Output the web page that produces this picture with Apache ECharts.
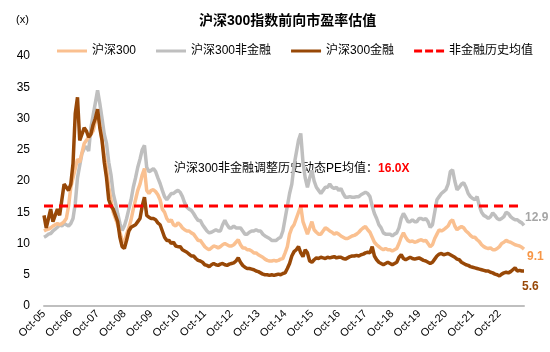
<!DOCTYPE html>
<html><head><meta charset="utf-8">
<script src="https://cdn.jsdelivr.net/npm/echarts@6/dist/echarts.min.js"></script>
<style>html,body{margin:0;padding:0;background:#fff}#c{width:550px;height:352px}</style>
</head><body><div id="c"></div>
<script>
// Monthly data, Oct-2005 .. Sep-2023
const startYear = 2005, startMonth = 9; // October (0-based)
const monthNames = ['Jan','Feb','Mar','Apr','May','Jun','Jul','Aug','Sep','Oct','Nov','Dec'];

const hs300 = [
12.0,12.2,12.3,12.5,12.8,13.0,13.2,13.0,13.2,13.5,14.0,16.0,19.0,20.5,22.0,23.5,23.0,24.5,26.0,26.5,
27.0,27.5,28.0,29.5,31.0,29.0,26.5,24.0,22.0,19.0,17.0,15.0,14.0,13.0,11.8,10.5,10.2,11.5,12.5,13.8,
15.5,17.0,18.5,19.5,21.0,22.0,18.5,18.0,18.5,18.6,18.3,17.8,17.0,15.5,15.0,14.0,13.5,13.8,13.0,12.8,
13.3,13.0,12.5,12.2,12.0,12.0,11.7,11.5,11.0,10.5,10.5,10.0,9.5,9.2,9.0,9.3,9.6,9.5,9.3,9.5,
9.8,10.0,9.8,9.6,9.6,9.8,10.2,10.6,9.8,9.3,9.3,9.0,9.0,8.8,8.5,8.5,8.2,8.0,7.8,7.5,
7.3,7.2,7.2,7.3,7.2,7.3,7.5,7.6,8.5,9.5,11.5,12.5,13.0,14.0,15.0,16.0,13.5,12.5,11.5,12.5,
13.5,12.2,11.8,11.5,11.5,12.0,12.5,12.3,12.0,11.8,11.5,11.7,11.5,11.2,11.0,10.8,10.8,11.0,11.2,11.3,
11.5,11.8,12.2,12.5,12.7,12.2,11.8,11.0,10.2,9.8,9.5,9.2,9.0,9.2,9.0,9.0,8.8,9.0,9.2,10.0,
11.0,11.7,11.0,10.5,10.3,10.4,10.2,10.3,10.5,10.6,10.4,10.5,10.0,9.5,9.8,10.8,11.5,12.2,12.0,12.2,
12.5,12.8,13.5,13.8,12.8,12.2,12.5,12.7,12.5,12.0,11.7,11.3,11.0,11.0,10.6,10.3,9.8,9.5,9.3,9.2,
9.3,9.0,9.0,9.2,9.5,10.0,10.2,10.5,10.3,10.2,10.0,9.8,9.7,9.6,9.4,9.1
];

const hs300NonFin = [
11.0,11.2,11.5,11.6,12.0,12.3,12.6,13.0,12.8,13.2,13.0,12.8,13.2,14.0,16.4,20.5,22.5,24.4,25.2,25.5,
24.8,28.5,30.5,32.5,34.5,32.4,30.0,27.5,26.0,23.0,21.0,18.0,16.5,14.8,13.2,12.1,12.8,14.0,15.5,17.0,
19.0,20.5,22.2,23.5,25.0,25.7,22.2,21.5,21.7,22.0,21.5,20.5,19.6,18.5,17.5,17.0,17.5,18.0,18.0,18.3,
18.5,18.2,17.5,16.5,15.8,15.5,15.3,14.8,14.2,13.7,13.7,13.0,12.5,12.0,11.7,11.8,12.0,12.2,12.0,12.0,
13.0,13.7,13.0,12.5,12.5,12.8,12.5,12.5,12.5,12.0,11.5,11.5,11.8,12.0,12.0,12.2,12.0,12.0,11.5,11.2,
11.0,10.8,10.5,10.5,10.5,10.8,11.0,12.0,14.0,16.0,18.0,19.5,22.5,24.5,26.5,27.6,23.0,20.5,19.0,20.5,
21.7,20.0,19.0,18.5,18.0,18.5,19.0,19.0,19.5,19.0,18.8,19.0,18.5,18.8,18.0,17.4,17.4,17.5,17.4,17.4,
17.5,17.5,17.8,18.0,18.2,18.0,17.5,16.0,14.8,14.0,13.0,12.5,11.7,11.5,11.5,11.5,11.2,11.5,11.7,12.5,
14.0,14.8,14.2,13.5,13.5,13.8,13.5,13.5,14.0,14.0,13.8,14.0,13.5,12.6,13.0,15.0,17.0,17.5,18.0,18.3,
18.6,19.5,21.5,21.8,20.0,18.6,19.0,19.5,19.7,19.0,18.0,17.5,17.2,17.0,17.5,16.0,15.0,14.5,14.3,14.0,
14.3,14.9,14.5,14.0,13.8,14.0,14.3,15.0,14.8,14.3,14.0,13.8,13.8,13.5,13.3,12.9
];

const hs300Fin = [
14.5,12.5,14.0,15.5,13.5,14.5,15.5,14.5,17.0,19.5,19.0,18.5,19.5,22.8,30.8,33.4,26.5,27.5,28.5,28.0,
27.0,27.5,29.0,30.0,31.5,28.5,26.5,23.0,20.5,17.0,16.0,15.5,14.5,13.5,11.0,9.5,9.2,10.5,12.0,12.6,
12.8,13.0,13.5,14.0,16.0,17.4,14.5,14.2,14.0,14.0,13.8,13.3,13.0,12.0,11.0,10.5,10.5,10.0,10.2,9.6,
9.5,9.5,9.0,8.8,8.6,8.3,8.0,8.0,7.6,7.3,7.2,7.0,6.6,6.5,6.3,6.6,6.8,6.6,6.5,6.7,
6.8,6.6,6.5,6.7,6.8,6.9,7.2,7.7,7.0,6.5,6.2,6.0,6.0,5.9,5.8,5.6,5.5,5.3,5.1,5.0,
5.0,4.9,5.0,4.9,5.0,5.1,5.0,5.2,5.3,6.0,6.8,8.0,8.7,9.0,9.5,8.5,7.9,9.0,8.5,7.2,
7.0,7.4,7.7,7.6,7.8,7.7,7.6,7.8,7.7,7.8,7.9,7.7,7.8,7.8,7.6,7.5,7.7,7.9,8.0,8.0,
8.1,8.0,8.2,8.3,8.5,8.6,8.5,9.5,8.0,7.4,7.0,6.8,6.6,6.8,7.0,6.8,6.6,6.8,7.0,7.8,
8.2,7.6,7.4,7.6,7.8,7.6,7.5,7.6,7.7,7.5,7.3,7.2,7.0,6.8,7.0,7.5,8.0,8.3,8.4,8.2,
8.3,8.4,8.2,8.0,7.8,7.5,7.4,7.0,6.8,6.6,6.5,6.3,6.2,6.1,6.0,5.9,5.8,5.7,5.6,5.6,
5.4,5.3,5.1,5.0,4.8,5.1,5.3,5.4,5.3,5.5,5.8,6.1,5.6,5.7,5.6,5.6
];

const nonFinAvg = 16.0;
const yTicks = [0, 40, 5]; // min, max, interval

const categories = [];
for (let i = 0; i < hs300.length; i++) {
  const mm = (startMonth + i) % 12;
  const yy = startYear + Math.floor((startMonth + i) / 12);
  categories.push(monthNames[mm] + '-' + String(yy % 100).padStart(2, '0'));
}
const avgLine = categories.map(() => nonFinAvg);

const FONT = 'Arial, "Liberation Sans", "Noto Sans CJK SC", sans-serif';
const C_ORANGE = '#FAC090', C_GRAY = '#BFBFBF', C_BROWN = '#984807', C_RED = '#FF0000';
const ICON_SOLID = 'path://M0,0 L30,0 L30,3 L0,3 Z';
const ICON_DASH = 'path://M0,0 h8 v3 h-8 z M11,0 h8 v3 h-8 z M22,0 h8 v3 h-8 z';

const chart = echarts.init(document.getElementById('c'), null, {renderer: 'canvas'});
chart.setOption({
  animation: false,
  textStyle: {fontFamily: FONT},
  title: {
    text: '沪深300指数前向市盈率估值',
    left: 194, top: 9,
    textStyle: {fontSize: 14, fontWeight: 'bold', color: '#000', fontFamily: FONT}
  },
  legend: {
    left: 52, top: 40, itemGap: 20, itemWidth: 30, itemHeight: 3,
    textStyle: {fontSize: 12, color: '#000', fontFamily: FONT},
    data: [
      {name: '沪深300', icon: ICON_SOLID},
      {name: '沪深300非金融', icon: ICON_SOLID},
      {name: '沪深300金融', icon: ICON_SOLID},
      {name: '非金融历史均值', icon: ICON_DASH}
    ]
  },
  grid: {left: 44, right: 26, top: 56, bottom: 46},
  xAxis: {
    type: 'category', data: categories, boundaryGap: false,
    axisLine: {lineStyle: {color: '#BFBFBF', width: 2}},
    axisTick: {show: false},
    axisLabel: {
      interval: (idx, v) => v.startsWith('Oct'),
      rotate: 45, fontSize: 11, color: '#000', margin: 6, fontFamily: FONT
    },
    splitLine: {show: false}
  },
  yAxis: {
    type: 'value', min: yTicks[0], max: yTicks[1], interval: yTicks[2],
    axisLine: {show: false}, axisTick: {show: false}, splitLine: {show: false},
    axisLabel: {fontSize: 12, color: '#000', margin: 14, fontFamily: FONT}
  },
  graphic: [
    {type: 'text', left: 16, top: 14, style: {text: '(x)', fontSize: 11, fill: '#000', fontFamily: FONT}},
    {type: 'text', left: 174, top: 163, style: {
      text: '{a|沪深300非金融调整历史动态PE均值：}{b|16.0X}',
      rich: {
        a: {fontSize: 12, fill: '#000', fontFamily: FONT},
        b: {fontSize: 12, fill: C_RED, fontWeight: 'bold', fontFamily: FONT}
      }
    }}
  ],
  series: [
    {name: '沪深300非金融', type: 'line', data: hs300NonFin, showSymbol: false, symbol: 'none', z: 2,
     color: C_GRAY, lineStyle: {color: C_GRAY, width: 3.5},
     endLabel: {show: true, formatter: '{c}', color: '#A6A6A6', fontSize: 12, fontWeight: 'bold', distance: 1, offset: [0, -8], fontFamily: FONT}},
    {name: '沪深300', type: 'line', data: hs300, showSymbol: false, symbol: 'none', z: 3,
     color: C_ORANGE, lineStyle: {color: C_ORANGE, width: 3.5},
     endLabel: {show: true, formatter: '{c}', color: '#F79646', fontSize: 12, fontWeight: 'bold', distance: 3, offset: [0, 8], fontFamily: FONT}},
    {name: '沪深300金融', type: 'line', data: hs300Fin, showSymbol: false, symbol: 'none', z: 4,
     color: C_BROWN, lineStyle: {color: C_BROWN, width: 3.5},
     endLabel: {show: true, formatter: '{c}', color: C_BROWN, fontSize: 12, fontWeight: 'bold', distance: -2, offset: [0, 16], fontFamily: FONT}},
    {name: '非金融历史均值', type: 'line', data: avgLine, showSymbol: false, symbol: 'none', z: 5,
     color: C_RED, lineStyle: {color: C_RED, width: 3, type: [9, 6]}}
  ]
});
</script></body></html>
